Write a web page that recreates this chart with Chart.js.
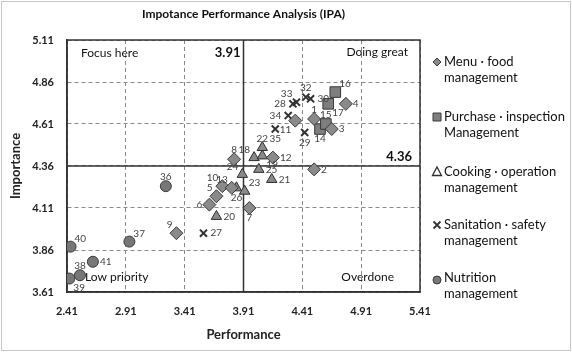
<!DOCTYPE html>
<html>
<head>
<meta charset="utf-8">
<title>IPA</title>
<script src="https://cdn.jsdelivr.net/npm/chart.js@4.4.0/dist/chart.umd.min.js"></script>
<style>
  html, body { margin: 0; padding: 0; background: #fff; }
  #wrap { width: 572px; height: 354px; }
</style>
</head>
<body>
<div id="wrap"><canvas id="ipa" width="572" height="354"></canvas></div>
<script>
// tick labels
const xTicks = [2.41, 2.91, 3.41, 3.91, 4.41, 4.91, 5.41];
const yTicks = [3.61, 3.86, 4.11, 4.36, 4.61, 4.86, 5.11];
const perfMean = 3.91;
const impMean = 4.36;

// Menu - food management
const menuIds = [1, 2, 3, 4, 5, 6, 7, 8, 9, 10, 11, 12, 13];
const menuPerf = [4.51, 4.51, 4.66, 4.78, 3.68, 3.62, 3.96, 3.83, 3.34, 3.73, 4.35, 4.16, 3.81];
const menuImp = [4.64, 4.34, 4.58, 4.73, 4.18, 4.13, 4.11, 4.40, 3.96, 4.24, 4.63, 4.41, 4.23];

// Purchase - inspection management
const purchIds = [14, 15, 16, 17];
const purchPerf = [4.56, 4.61, 4.69, 4.63];
const purchImp = [4.58, 4.61, 4.80, 4.73];

// Cooking - operation management
const cookIds = [18, 19, 20, 21, 22, 23, 24, 25, 26];
const cookPerf = [4.00, 4.07, 3.68, 4.15, 4.07, 3.92, 3.90, 4.04, 3.85];
const cookImp = [4.41, 4.42, 4.06, 4.28, 4.47, 4.21, 4.31, 4.34, 4.23];

// Sanitation - safety management
const sanIds = [27, 28, 29, 30, 32, 33, 34, 35];
const sanPerf = [3.57, 4.33, 4.43, 4.48, 4.44, 4.36, 4.29, 4.18];
const sanImp = [3.96, 4.73, 4.56, 4.76, 4.77, 4.74, 4.66, 4.58];

// Nutrition management
const nutIds = [36, 37, 38, 39, 40, 41];
const nutPerf = [3.25, 2.94, 2.52, 2.43, 2.44, 2.63];
const nutImp = [4.24, 3.91, 3.71, 3.69, 3.88, 3.79];

// where each number label sits around its marker
const labelSide = {
  1: "a", 2: "r", 3: "r", 4: "r", 5: "al", 6: "l", 7: "b", 8: "a", 9: "al", 10: "al",
  11: "bl", 12: "r", 13: "al", 14: "b", 15: "a", 16: "ar", 17: "br", 18: "al", 19: "br",
  20: "r", 21: "r", 22: "a", 23: "ar", 24: "al", 25: "r", 26: "b", 27: "r", 28: "l",
  29: "b", 30: "r", 32: "a", 33: "al", 34: "l", 35: "b", 36: "a", 37: "ar", 38: "a",
  39: "br", 40: "ar", 41: "r",
};

const toPoints = (xs, ys) => xs.map((v, i) => ({ x: v, y: ys[i] }));

const FONT = "Lato, 'Open Sans', sans-serif";
const DARK = "#333";

const series = [
  { label: ["Menu · food", "management"], ids: menuIds, pts: toPoints(menuPerf, menuImp),
    style: "rectRot", radius: 6.5, bg: "#8a8a8a", border: "#3a3a3a", bw: 1 },
  { label: ["Purchase · inspection", "Management"], ids: purchIds, pts: toPoints(purchPerf, purchImp),
    style: "rect", radius: 7.5, bg: "#7e7e7e", border: "#3a3a3a", bw: 1 },
  { label: ["Cooking · operation", "management"], ids: cookIds, pts: toPoints(cookPerf, cookImp),
    style: "triangle", radius: 6, bg: "#8a8a8a", border: "#2e2e2e", bw: 1 },
  { label: ["Sanitation · safety", "management"], ids: sanIds, pts: toPoints(sanPerf, sanImp),
    style: "crossRot", radius: 5, bg: "#333", border: "#333", bw: 2 },
  { label: ["Nutrition", "management"], ids: nutIds, pts: toPoints(nutPerf, nutImp),
    style: "circle", radius: 5.5, bg: "#777", border: "#3a3a3a", bw: 1 },
];

// box, mean lines, frame
const quadrantPlugin = {
  id: "quadrant",
  beforeDatasetsDraw(chart) {
    const { ctx, chartArea: a, scales } = chart;
    const mx = scales.x.getPixelForValue(perfMean);
    const my = scales.y.getPixelForValue(impMean);
    ctx.save();
    ctx.strokeStyle = DARK;
    ctx.lineWidth = 1.5;
    ctx.strokeRect(a.left, a.top, a.right - a.left, a.bottom - a.top);
    ctx.beginPath();
    ctx.moveTo(mx, a.top);
    ctx.lineTo(mx, a.bottom);
    ctx.moveTo(a.left, my);
    ctx.lineTo(a.right, my);
    ctx.stroke();

    ctx.fillStyle = "#111";
    ctx.textBaseline = "middle";
    ctx.font = "12px " + FONT;
    ctx.textAlign = "left";
    ctx.fillText("Focus here", a.left + 14, a.top + 13);
    ctx.fillText("Low priority", a.left + 18, a.bottom - 15);
    ctx.textAlign = "right";
    ctx.fillText("Doing great", a.right - 12, a.top + 12);
    ctx.fillText("Overdone", a.right - 26, a.bottom - 15);
    ctx.font = "bold 13px " + FONT;
    ctx.fillText(perfMean.toFixed(2), mx - 3, a.top + 13);
    ctx.fillText(impMean.toFixed(2), a.right - 8, my - 9);
    ctx.restore();
  },
  afterDatasetsDraw(chart) {
    const { ctx } = chart;
    const off = {
      a: [0, -9, "center"], b: [0, 10, "center"], l: [-7, 0, "right"], r: [7, 0, "left"],
      al: [-4, -8, "right"], ar: [4, -8, "left"], bl: [-4, 9, "right"], br: [4, 9, "left"],
    };
    ctx.save();
    ctx.font = "10px " + FONT;
    ctx.fillStyle = "#444";
    ctx.textBaseline = "middle";
    series.forEach((s, di) => {
      const meta = chart.getDatasetMeta(di);
      s.ids.forEach((id, i) => {
        const el = meta.data[i];
        const o = off[labelSide[id] || "r"];
        ctx.textAlign = o[2];
        ctx.fillText(String(id), el.x + o[0], el.y + o[1]);
      });
    });
    ctx.restore();
  },
  afterDraw(chart) {
    const { ctx } = chart;
    ctx.save();
    // picture frame
    ctx.strokeStyle = "#c8c8c8";
    ctx.lineWidth = 1;
    ctx.strokeRect(1.5, 1.5, 569, 349);

    // legend
    const lx = 437, tx = 444;
    const rows = [62, 117, 172, 225, 278];
    ctx.font = "13px " + FONT;
    ctx.textBaseline = "middle";
    ctx.textAlign = "left";
    series.forEach((s, i) => {
      const y = rows[i];
      drawMark(ctx, s.style, lx, y, s.bg, s.border);
      ctx.fillStyle = "#111";
      ctx.fillText(s.label[0], tx, y);
      ctx.fillText(s.label[1], tx, y + 16);
    });
    ctx.restore();
  },
};

function drawMark(ctx, style, x, y, bg, border) {
  ctx.save();
  ctx.fillStyle = bg;
  ctx.strokeStyle = border;
  ctx.lineWidth = 1;
  ctx.beginPath();
  if (style === "rectRot") {
    ctx.moveTo(x, y - 4);
    ctx.lineTo(x + 4, y);
    ctx.lineTo(x, y + 4);
    ctx.lineTo(x - 4, y);
    ctx.closePath();
    ctx.fill();
    ctx.stroke();
  } else if (style === "rect") {
    ctx.rect(x - 4, y - 4, 8, 8);
    ctx.fill();
    ctx.stroke();
  } else if (style === "triangle") {
    ctx.moveTo(x, y - 5);
    ctx.lineTo(x + 4.5, y + 3.5);
    ctx.lineTo(x - 4.5, y + 3.5);
    ctx.closePath();
    ctx.fillStyle = "#fff";
    ctx.fill();
    ctx.lineWidth = 1.3;
    ctx.stroke();
  } else if (style === "crossRot") {
    ctx.lineWidth = 1.8;
    ctx.moveTo(x - 3.5, y - 3.5);
    ctx.lineTo(x + 3.5, y + 3.5);
    ctx.moveTo(x + 3.5, y - 3.5);
    ctx.lineTo(x - 3.5, y + 3.5);
    ctx.stroke();
  } else {
    ctx.arc(x, y + 2, 4, 0, Math.PI * 2);
    ctx.fill();
    ctx.stroke();
  }
  ctx.restore();
}

const tickFont = { family: FONT, size: 11, weight: "bold" };
const titleFont = { family: FONT, size: 13, weight: "bold" };

new Chart(document.getElementById("ipa"), {
  type: "scatter",
  data: {
    datasets: series.map((s) => ({
      label: s.label.join(" "),
      data: s.pts,
      pointStyle: s.style,
      pointRadius: s.radius,
      pointHoverRadius: s.radius,
      backgroundColor: s.bg,
      borderColor: s.border,
      borderWidth: s.bw,
    })),
  },
  options: {
    responsive: false,
    animation: false,
    events: [],
    layout: { padding: { left: 0, right: 152, top: 0, bottom: 0 } },
    scales: {
      x: {
        type: "linear",
        min: xTicks[0],
        max: xTicks[xTicks.length - 1],
        afterBuildTicks: (s) => { s.ticks = xTicks.map((v) => ({ value: v })); },
        afterFit: (s) => { s.height = 62; },
        ticks: { font: tickFont, color: "#222", padding: 13, callback: (v) => Number(v).toFixed(2) },
        grid: { color: "#8a8a8a", lineWidth: 1, drawTicks: false },
        border: { display: true, color: DARK, width: 1.5, dash: [4, 3] },
        title: { display: true, text: "Performance", font: titleFont, color: "#222", padding: { top: 4, bottom: 11 } },
      },
      y: {
        type: "linear",
        min: yTicks[0],
        max: yTicks[yTicks.length - 1],
        afterBuildTicks: (s) => { s.ticks = yTicks.map((v) => ({ value: v })); },
        afterFit: (s) => { s.width = 67; },
        ticks: { font: tickFont, color: "#222", padding: 13, callback: (v) => Number(v).toFixed(2) },
        grid: { color: "#8a8a8a", lineWidth: 1, drawTicks: false },
        border: { display: true, color: DARK, width: 1.5, dash: [4, 3] },
        title: { display: true, text: "Importance", font: titleFont, color: "#222", padding: { top: 8, bottom: 8 } },
      },
    },
    plugins: {
      legend: { display: false },
      tooltip: { enabled: false },
      title: {
        display: true,
        fullSize: false,
        text: "Impotance Performance Analysis (IPA)",
        font: { family: FONT, size: 12, weight: "bold" },
        color: "#111",
        padding: { top: 7, bottom: 18.6 },
      },
    },
  },
  plugins: [quadrantPlugin],
});
</script>
</body>
</html>
